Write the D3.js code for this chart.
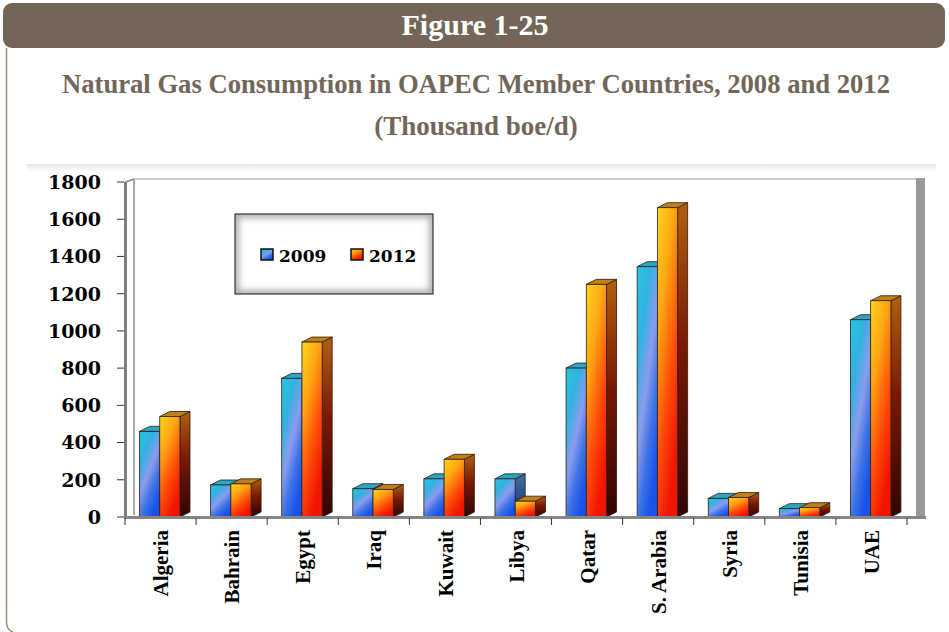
<!DOCTYPE html>
<html>
<head>
<meta charset="utf-8">
<script src="https://cdn.jsdelivr.net/npm/d3@7"></script>
<style>
  body { margin: 0; background: #fff; }
  svg { display: block; }
</style>
</head>
<body>
<script>
// chart data
var countries = ["Algeria", "Bahrain", "Egypt", "Iraq", "Kuwait", "Libya", "Qatar", "S. Arabia", "Syria", "Tunisia", "UAE"];
var years = ["2009", "2012"];
var values2009 = [460, 172, 745, 152, 205, 205, 800, 1345, 100, 45, 1060];
var values2012 = [540, 178, 940, 148, 310, 85, 1250, 1662, 105, 50, 1162];
var yTicks = [0, 200, 400, 600, 800, 1000, 1200, 1400, 1600, 1800];

var width = 949,
    height = 632;

var svg = d3.select("body")
    .append("svg")
    .attr("width", width)
    .attr("height", height);

var defs = svg.append("defs");

//gradient helper
function addGradient(id, x2, y2, stops){
    var g = defs.append("linearGradient")
        .attr("id", id)
        .attr("x1", 0).attr("y1", 0)
        .attr("x2", x2).attr("y2", y2);
    stops.forEach(function(s){
        g.append("stop").attr("offset", s[0]).attr("stop-color", s[1]);
    });
}

addGradient("blueFront", 0.6, 1, [[0, "#25c6dc"], [0.3, "#33b0e2"], [0.55, "#8b9cec"], [0.78, "#3c72e6"], [1, "#1852e8"]]);
addGradient("blueSide", 0, 1, [[0, "#3d6fa8"], [1, "#1b2f70"]]);
addGradient("orangeFront", 0.5, 1, [[0, "#ffd51c"], [0.35, "#ffa512"], [0.7, "#ff4a08"], [1, "#f01500"]]);
addGradient("orangeSide", 0, 1, [[0, "#b0600f"], [0.45, "#7a1804"], [1, "#300404"]]);
addGradient("topBand", 0, 1, [[0, "#e6e6e6"], [1, "#ffffff"]]);

var blur = defs.append("filter").attr("id", "soft")
    .attr("x", "-20%").attr("y", "-20%").attr("width", "140%").attr("height", "140%");
blur.append("feGaussianBlur").attr("stdDeviation", 3);

//header bar
svg.append("rect")
    .attr("x", 3).attr("y", 3)
    .attr("width", 942).attr("height", 45)
    .attr("rx", 9)
    .attr("fill", "#736658");

svg.append("text")
    .attr("x", 475).attr("y", 35)
    .attr("text-anchor", "middle")
    .attr("font-family", "'Liberation Serif', 'Times New Roman', serif")
    .attr("font-weight", "bold")
    .attr("font-size", 30)
    .attr("fill", "#fff")
    .text("Figure 1-25");

//left frame line
svg.append("path")
    .attr("d", "M6.5,48 L6.5,622 Q6.5,630 13,632")
    .attr("fill", "none")
    .attr("stroke", "#9a9182")
    .attr("stroke-width", 1.5);

//titles
svg.append("text")
    .attr("x", 476).attr("y", 93)
    .attr("text-anchor", "middle")
    .attr("font-family", "'Liberation Serif', 'Times New Roman', serif")
    .attr("font-weight", "bold")
    .attr("font-size", 27)
    .attr("fill", "#72665a")
    .attr("textLength", 828)
    .attr("lengthAdjust", "spacingAndGlyphs")
    .text("Natural Gas Consumption in OAPEC Member Countries, 2008 and 2012");

svg.append("text")
    .attr("x", 476).attr("y", 135)
    .attr("text-anchor", "middle")
    .attr("font-family", "'Liberation Serif', 'Times New Roman', serif")
    .attr("font-weight", "bold")
    .attr("font-size", 27)
    .attr("fill", "#72665a")
    .text("(Thousand boe/d)");

//faint band on top of the chart picture
svg.append("rect")
    .attr("x", 27).attr("y", 164)
    .attr("width", 909).attr("height", 8)
    .attr("fill", "url(#topBand)");

//scales
var y = d3.scaleLinear()
    .domain([0, 1800])
    .range([517, 182]);

var x0 = d3.scaleBand()
    .domain(countries)
    .range([125, 907]);

var x1 = d3.scaleBand()
    .domain(years)
    .range([14.5, 55]);

var dx = 10, dy = 5;

//back wall and 3D frame
var frame = svg.append("g");
frame.append("line")
    .attr("x1", 134).attr("y1", 179).attr("x2", 917).attr("y2", 179)
    .attr("stroke", "#9a9a9a").attr("stroke-width", 1.2);
frame.append("line")
    .attr("x1", 134).attr("y1", 179).attr("x2", 134).attr("y2", 515)
    .attr("stroke", "#a8a8a8").attr("stroke-width", 2);
frame.append("line")
    .attr("x1", 125.5).attr("y1", 182).attr("x2", 134).attr("y2", 179)
    .attr("stroke", "#888").attr("stroke-width", 1.5);
frame.append("rect")
    .attr("x", 916).attr("y", 178)
    .attr("width", 9).attr("height", 340)
    .attr("fill", "#9a9a9a");
frame.append("line")
    .attr("x1", 125.5).attr("y1", 182).attr("x2", 125.5).attr("y2", 518)
    .attr("stroke", "#7d7d7d").attr("stroke-width", 3);

//y axis ticks and labels
var yAxis = svg.append("g");
yAxis.selectAll(".ytick")
    .data(yTicks)
    .enter()
    .append("line")
    .attr("x1", 117).attr("x2", 124)
    .attr("y1", function(d){ return y(d); })
    .attr("y2", function(d){ return y(d); })
    .attr("stroke", "#333").attr("stroke-width", 1);

yAxis.selectAll(".ylabel")
    .data(yTicks)
    .enter()
    .append("text")
    .attr("x", 101)
    .attr("y", function(d){ return y(d); })
    .attr("dy", "0.36em")
    .attr("text-anchor", "end")
    .attr("font-family", "'DejaVu Serif', serif")
    .attr("font-weight", "bold")
    .attr("font-size", 19)
    .attr("fill", "#000")
    .text(function(d){ return d; });

//bars
var series = [
    {year: "2009", values: values2009, front: "url(#blueFront)", side: "url(#blueSide)", top: "#2aa6c6"},
    {year: "2012", values: values2012, front: "url(#orangeFront)", side: "url(#orangeSide)", top: "#c08018"}
];

var bars = svg.append("g");
countries.forEach(function(c, i){
    series.forEach(function(s){
        var bx = x0(c) + x1(s.year),
            bw = x1.bandwidth(),
            yt = y(s.values[i]),
            yb = y(0),
            g = bars.append("g");
        g.append("path")
            .attr("d", "M" + (bx + bw) + "," + yt + "L" + (bx + bw + dx) + "," + (yt - dy) +
                "L" + (bx + bw + dx) + "," + (yb - dy) + "L" + (bx + bw) + "," + yb + "Z")
            .attr("fill", s.side)
            .attr("stroke", "#2a1a10").attr("stroke-width", 0.8);
        g.append("path")
            .attr("d", "M" + bx + "," + yt + "L" + (bx + dx) + "," + (yt - dy) +
                "L" + (bx + bw + dx) + "," + (yt - dy) + "L" + (bx + bw) + "," + yt + "Z")
            .attr("fill", s.top)
            .attr("stroke", "#2a1a10").attr("stroke-width", 0.8);
        g.append("rect")
            .attr("x", bx).attr("y", yt)
            .attr("width", bw).attr("height", yb - yt)
            .attr("fill", s.front)
            .attr("stroke", "#2a2020").attr("stroke-width", 0.8);
    });
});

//floor line
svg.append("line")
    .attr("x1", 124).attr("y1", 517.5).attr("x2", 926).attr("y2", 517.5)
    .attr("stroke", "#858585").attr("stroke-width", 3);

//x axis ticks
var xTicks = countries.map(function(c){ return x0(c); }).concat([x0.range()[1]]);
svg.selectAll(".xtick")
    .data(xTicks)
    .enter()
    .append("line")
    .attr("x1", function(d){ return d; })
    .attr("x2", function(d){ return d; })
    .attr("y1", 518).attr("y2", 525)
    .attr("stroke", "#333").attr("stroke-width", 1);

//x labels
svg.selectAll(".xlabel")
    .data(countries)
    .enter()
    .append("text")
    .attr("transform", function(d){
        return "translate(" + (x0(d) + 36) + ",530) rotate(-90)";
    })
    .attr("dy", "0.34em")
    .attr("text-anchor", "end")
    .attr("font-family", "'Liberation Serif', 'Times New Roman', serif")
    .attr("font-weight", "bold")
    .attr("font-size", 21)
    .attr("fill", "#000")
    .text(function(d){ return d; });

//legend
var legend = svg.append("g");
legend.append("clipPath").attr("id", "legClip")
    .append("rect")
    .attr("x", 235).attr("y", 214).attr("width", 198).attr("height", 80);
legend.append("rect")
    .attr("x", 235).attr("y", 214).attr("width", 198).attr("height", 80)
    .attr("fill", "#fff");
legend.append("rect")
    .attr("x", 235).attr("y", 214).attr("width", 198).attr("height", 80)
    .attr("fill", "none")
    .attr("stroke", "#9a9a9a").attr("stroke-width", 8)
    .attr("stroke-opacity", 0.8)
    .attr("filter", "url(#soft)")
    .attr("clip-path", "url(#legClip)");
legend.append("rect")
    .attr("x", 235).attr("y", 214).attr("width", 198).attr("height", 80)
    .attr("fill", "none")
    .attr("stroke", "#111").attr("stroke-width", 1);

var legendX = d3.scaleOrdinal().domain(years).range([261, 351]);
series.forEach(function(s){
    legend.append("rect")
        .attr("x", legendX(s.year)).attr("y", 249)
        .attr("width", 12).attr("height", 11)
        .attr("fill", s.front)
        .attr("stroke", "#111").attr("stroke-width", 1.5);
    legend.append("text")
        .attr("x", legendX(s.year) + 18).attr("y", 262)
        .attr("font-family", "'DejaVu Serif', serif")
        .attr("font-weight", "bold")
        .attr("font-size", 17)
        .attr("fill", "#000")
        .text(s.year);
});
</script>
</body>
</html>
